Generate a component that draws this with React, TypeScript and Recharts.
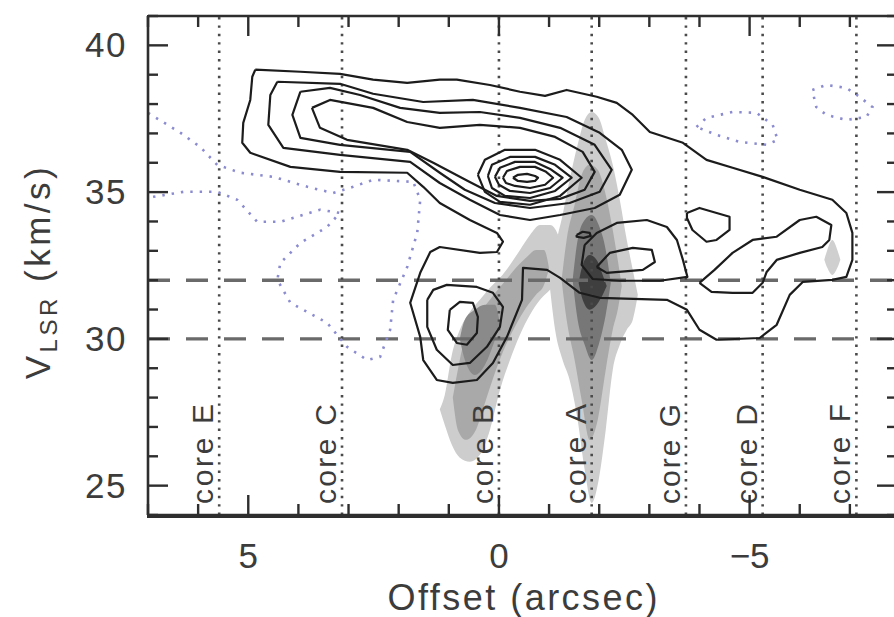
import React from "react";
import { ComposedChart, XAxis, YAxis, Line, Area, ReferenceLine } from "recharts";

// axes
const offsetTicks = [-7, -6, -5, -4, -3, -2, -1, 0, 1, 2, 3, 4, 5, 6, 7];
const offsetLabels = [5, 0, -5];
const velocityTicks = [24, 25, 26, 27, 28, 29, 30, 31, 32, 33, 34, 35, 36, 37, 38, 39, 40, 41];
const velocityLabels = [25, 30, 35, 40];
const offsetDomain = [-7.94, 7];
const velocityDomain = [24, 41];

// cores (dotted verticals) and velocity marks (dashed horizontals)
const coreNames = ["core E", "core C", "core B", "core A", "core G", "core D", "core F"];
const coreOffsets = [5.58, 3.13, 0.0, -1.85, -3.73, -5.26, -7.13];
const velocityMarks = [32, 30];

// solid contours: [offset, velocity]
const contourOuter = [
  [4.86, 39.17], [3.96, 39.1], [3.17, 39.03], [2.51, 38.83], [1.83, 38.72], [1.18, 38.83], [0.84, 38.83],
  [0.18, 38.65], [-0.42, 38.42], [-0.92, 38.28], [-1.35, 38.48], [-1.95, 38.25], [-2.35, 38.04], [-2.67, 37.63],
  [-3.01, 37.05], [-3.67, 36.68], [-4.14, 36.1], [-4.66, 35.83], [-5.26, 35.52], [-6.0, 35.08], [-6.65, 34.74],
  [-6.93, 34.29], [-7.05, 33.61], [-7.05, 32.69], [-6.93, 32.11], [-6.65, 32.01], [-6.06, 31.94], [-5.8, 31.5],
  [-5.54, 30.48], [-5.2, 30.03], [-4.34, 29.97], [-4.0, 30.31], [-3.75, 30.99], [-3.35, 31.33], [-2.01, 31.4],
  [-1.61, 31.57], [-1.22, 32.08], [-0.96, 32.35], [-0.48, 32.42], [-0.46, 31.33], [-0.16, 30.07], [0.12, 29.18],
  [0.44, 28.6], [0.92, 28.5], [1.24, 28.6], [1.51, 29.28], [1.57, 30.07], [1.77, 31.23], [1.57, 32.25],
  [1.37, 32.96], [1.18, 33.13], [0.38, 32.93], [0.04, 32.96], [-0.08, 33.31], [0.04, 33.61], [0.58, 34.05],
  [1.18, 34.63], [1.51, 35.18], [1.83, 35.66], [3.17, 35.69], [4.16, 35.86], [4.96, 36.34], [5.12, 36.68],
  [5.1, 37.36], [4.96, 38.14], [4.92, 38.93],
];
const contourRidge2 = [
  [4.42, 38.76], [3.17, 38.69], [2.51, 38.35], [1.51, 38.07], [0.52, 38.14], [-0.42, 37.87], [-1.35, 37.56],
  [-2.01, 37.02], [-2.45, 36.44], [-2.65, 35.76], [-2.41, 34.91], [-1.91, 34.46], [-1.22, 34.22], [-0.62, 34.05],
  [-0.02, 34.22], [0.58, 34.74], [1.18, 35.31], [1.77, 36.03], [3.17, 36.27], [4.3, 36.51], [4.6, 37.29], [4.56, 38.31],
];
const contourRidge3 = [
  [3.96, 38.42], [3.37, 38.55], [2.77, 38.31], [1.97, 37.87], [1.18, 37.7], [0.38, 37.73], [-0.42, 37.53],
  [-1.22, 37.19], [-1.91, 36.61], [-2.25, 35.76], [-2.01, 35.01], [-1.41, 34.63], [-0.62, 34.46], [0.08, 34.63],
  [0.68, 35.08], [1.18, 35.66], [1.77, 36.37], [3.17, 36.61], [3.96, 36.85], [4.12, 37.63],
];
const contourRidge4 = [
  [3.73, 37.87], [3.37, 38.14], [2.51, 37.87], [1.83, 37.39], [1.18, 37.19], [0.38, 37.29], [-0.42, 37.19],
  [-1.12, 36.88], [-1.67, 36.37], [-1.91, 35.69], [-1.71, 35.08], [-1.22, 34.77], [-0.62, 34.7], [0.04, 34.87],
  [0.62, 35.38], [1.31, 36.0], [1.83, 36.44], [3.03, 36.78], [3.57, 37.19],
];
const contourPeak5 = [
  [0.42, 35.59], [0.28, 36.1], [-0.12, 36.44], [-0.72, 36.44], [-1.22, 36.1], [-1.65, 35.49], [-1.22, 34.87],
  [-0.62, 34.57], [-0.02, 34.67], [0.28, 35.01],
];
const contourPeak6 = [
  [0.22, 35.55], [0.14, 35.93], [-0.22, 36.2], [-0.72, 36.2], [-1.12, 35.93], [-1.45, 35.49], [-1.12, 35.04],
  [-0.62, 34.8], [-0.12, 34.87], [0.14, 35.14],
];
const contourPeak7 = [
  [0.08, 35.52], [-0.02, 35.83], [-0.32, 36.03], [-0.72, 36.03], [-1.02, 35.79], [-1.27, 35.49], [-1.02, 35.14],
  [-0.62, 34.97], [-0.22, 35.04], [0.0, 35.25],
];
const contourPeak8 = [
  [-0.08, 35.49], [-0.16, 35.72], [-0.42, 35.86], [-0.72, 35.86], [-0.94, 35.69], [-1.08, 35.49], [-0.92, 35.25],
  [-0.62, 35.14], [-0.32, 35.21], [-0.14, 35.31],
];
const contourPeak9 = [
  [-0.28, 35.49], [-0.38, 35.59], [-0.56, 35.62], [-0.72, 35.55], [-0.78, 35.49], [-0.72, 35.38], [-0.56, 35.35],
  [-0.38, 35.38],
];
const contourB2 = [
  [1.43, 31.33], [1.31, 31.67], [1.04, 31.84], [0.44, 31.77], [0.12, 31.57], [-0.08, 31.09], [-0.02, 30.41],
  [0.24, 29.73], [0.58, 29.18], [0.92, 29.11], [1.24, 29.63], [1.43, 30.41],
];
const contourB3 = [
  [0.98, 30.99], [0.78, 31.26], [0.52, 31.23], [0.42, 30.75], [0.44, 30.2], [0.64, 29.8], [0.84, 29.86], [1.02, 30.31],
];
const contourA2 = [
  [-1.71, 33.2], [-1.95, 33.61], [-2.35, 33.95], [-2.95, 34.05], [-3.35, 33.81], [-3.55, 33.37], [-3.67, 32.69],
  [-3.76, 32.11], [-3.21, 31.98], [-2.41, 31.98], [-1.87, 32.04], [-1.65, 32.52],
];
const contourA3 = [
  [-1.95, 32.45], [-2.21, 32.93], [-2.67, 33.1], [-3.05, 33.03], [-3.11, 32.62], [-2.87, 32.35], [-2.15, 32.25],
];
const contourAtiny = [[-1.55, 33.54], [-1.67, 33.65], [-1.81, 33.61], [-1.83, 33.51], [-1.69, 33.44], [-1.55, 33.48]];
const contourG = [
  [-3.75, 34.29], [-4.0, 34.46], [-4.6, 34.16], [-4.6, 33.71], [-4.34, 33.37], [-4.14, 33.31], [-3.86, 33.71], [-3.75, 34.12],
];
const contourD = [
  [-4.0, 31.91], [-4.3, 32.35], [-4.66, 32.93], [-5.06, 33.37], [-5.54, 33.48], [-6.0, 34.05], [-6.33, 34.16],
  [-6.63, 33.88], [-6.59, 33.37], [-6.45, 33.13], [-6.0, 32.93], [-5.54, 32.69], [-5.34, 32.28], [-5.26, 31.91],
  [-5.06, 31.57], [-4.66, 31.57], [-4.24, 31.6],
];

// negative (dotted) contours
const negativeLeft = [
  [7.0, 37.7], [6.35, 37.02], [5.96, 36.54], [5.62, 35.93], [5.16, 35.66], [4.5, 35.52], [3.82, 35.18], [3.31, 34.97],
  [2.91, 35.18], [2.51, 35.42], [1.71, 35.35], [1.57, 34.74], [1.63, 33.61], [1.83, 32.45], [2.11, 31.33],
  [2.17, 30.31], [2.37, 29.39], [2.63, 29.28], [3.03, 29.73], [3.43, 30.55], [4.16, 31.23], [4.42, 32.01],
  [4.36, 32.59], [3.96, 33.27], [3.43, 33.81], [3.17, 34.29], [3.57, 34.4], [4.36, 33.99], [4.82, 33.99],
  [5.22, 34.74], [5.62, 35.01], [6.29, 35.01], [6.89, 34.84], [7.0, 34.8],
];
const negativeMid = [
  [-3.94, 37.22], [-4.14, 37.53], [-4.66, 37.73], [-5.14, 37.7], [-5.46, 37.29], [-5.56, 36.78], [-5.34, 36.61],
  [-4.8, 36.71], [-4.34, 36.95],
];
const negativeRight = [
  [-6.25, 38.48], [-6.53, 38.65], [-6.93, 38.55], [-7.19, 38.25], [-7.45, 37.9], [-7.33, 37.56], [-6.93, 37.46],
  [-6.53, 37.63], [-6.33, 37.9],
];

// grey-scale emission: [offset, low velocity, high velocity]
const greyBLight = [
  [1.18, 27.6, 27.6], [1.08, 27.07, 28.09], [0.94, 26.39, 29.45], [0.78, 25.95, 30.31], [0.58, 25.81, 30.92],
  [0.38, 26.05, 31.33], [0.18, 26.9, 31.74], [-0.02, 28.26, 32.08], [-0.22, 29.28, 32.52], [-0.42, 30.14, 33.03],
  [-0.62, 30.82, 33.54], [-0.82, 31.33, 33.88], [-1.02, 31.67, 33.88], [-1.18, 32.01, 33.54], [-1.27, 32.8, 32.8],
];
const greyBMid = [
  [0.92, 28.0, 28.0], [0.82, 26.9, 28.94], [0.66, 26.56, 30.14], [0.46, 26.9, 30.71], [0.26, 27.92, 31.16],
  [0.06, 28.94, 31.6], [-0.14, 29.8, 32.01], [-0.34, 30.48, 32.42], [-0.54, 31.06, 32.76], [-0.74, 31.5, 33.03],
  [-0.9, 31.84, 33.03], [-1.0, 32.4, 32.4],
];
const greyBDark = [
  [0.78, 30.0, 30.0], [0.68, 29.28, 30.65], [0.48, 28.77, 30.99], [0.28, 29.11, 31.16], [0.08, 29.97, 31.16],
  [-0.02, 30.5, 30.5],
];
const greyALight = [
  [-1.02, 31.7, 31.7], [-1.12, 30.31, 33.03], [-1.27, 29.28, 34.22], [-1.41, 28.6, 35.42], [-1.57, 27.24, 36.61],
  [-1.71, 25.54, 37.46], [-1.85, 24.41, 37.73], [-1.99, 25.2, 37.53], [-2.13, 26.9, 36.78], [-2.27, 28.94, 35.93],
  [-2.41, 29.8, 34.74], [-2.55, 30.31, 33.37], [-2.67, 30.65, 32.35], [-2.77, 31.5, 31.5],
];
const greyAMid = [
  [-1.25, 32.0, 32.0], [-1.35, 30.65, 33.37], [-1.51, 29.28, 34.57], [-1.65, 27.92, 35.59], [-1.81, 26.56, 35.93],
  [-1.97, 27.24, 35.76], [-2.13, 28.94, 34.91], [-2.27, 30.31, 33.71], [-2.37, 30.99, 32.69], [-2.45, 31.8, 31.8],
];
const greyADark = [
  [-1.47, 32.0, 32.0], [-1.57, 30.65, 33.37], [-1.71, 29.8, 34.05], [-1.85, 29.28, 34.22], [-1.99, 29.8, 33.88],
  [-2.13, 30.82, 33.03], [-2.23, 31.9, 31.9],
];
const greyACore = [
  [-1.59, 31.9, 31.9], [-1.67, 31.33, 32.52], [-1.81, 30.99, 32.86], [-1.95, 31.16, 32.69], [-2.07, 31.5, 32.18],
  [-2.15, 31.8, 31.8],
];
const greyF = [[-6.49, 32.7, 32.7], [-6.55, 32.42, 33.03], [-6.65, 32.18, 33.37], [-6.75, 32.42, 33.03], [-6.81, 32.7, 32.7]];

const AX = "#2e2e2e";
const TXT = "#3c3c3c";
const FONT = "'Liberation Sans', Arial, sans-serif";
// chart frame (px inside the svg)
const CHART_W = 899;
const CHART_H = 609;
const TOP_H = 8;
const RIGHT_W = 10;
const LEFT_W = 140;
const BOTTOM_H = 102;
const PLOT_TOP = TOP_H;
const PLOT_RIGHT = CHART_W - RIGHT_W;

const closed = (pts: number[][]) => [...pts, pts[0]].map(([x, y]) => ({ x, y }));
const open = (pts: number[][]) => pts.map(([x, y]) => ({ x, y }));
const band = (rows: number[][]) => rows.map(([x, lo, hi]) => ({ x, v: [lo, hi] }));

const solidContours = [
  contourOuter, contourRidge2, contourRidge3, contourRidge4, contourPeak5, contourPeak6, contourPeak7,
  contourPeak8, contourPeak9, contourB2, contourB3, contourA2, contourA3, contourAtiny, contourG, contourD,
].map(closed);
const dottedContours = [open(negativeLeft), closed(negativeMid), closed(negativeRight)];
const greyLayers = [
  { rows: greyBLight, fill: "#cdcdcd" },
  { rows: greyALight, fill: "#cdcdcd" },
  { rows: greyF, fill: "#cfcfcf" },
  { rows: greyBMid, fill: "#a9a9a9" },
  { rows: greyAMid, fill: "#a9a9a9" },
  { rows: greyBDark, fill: "#8a8a8a" },
  { rows: greyADark, fill: "#777777" },
  { rows: greyACore, fill: "#3f3f3f" },
];

const fmt = (v: number) => (v < 0 ? "\u2212" + Math.abs(v) : String(v));

// bottom ticks also mirror onto the top frame
function BottomTick(p: any) {
  const v = p.payload.value;
  const len = v % 5 === 0 ? 20 : 11;
  return (
    <g>
      <line x1={p.x} x2={p.x} y1={p.y} y2={p.y - len} stroke={AX} strokeWidth={2.4} />
      <line x1={p.x} x2={p.x} y1={PLOT_TOP} y2={PLOT_TOP + len} stroke={AX} strokeWidth={2.4} />
      {offsetLabels.includes(v) && (
        <text x={p.x} y={p.y + 53} textAnchor="middle" fontSize={35} fill={TXT} fontFamily={FONT}>
          {fmt(v)}
        </text>
      )}
    </g>
  );
}

// left ticks also mirror onto the right frame
function LeftTick(p: any) {
  const v = p.payload.value;
  const len = v % 5 === 0 ? 20 : 10;
  return (
    <g>
      <line x1={p.x} x2={p.x + len} y1={p.y} y2={p.y} stroke={AX} strokeWidth={2.4} />
      <line x1={PLOT_RIGHT} x2={PLOT_RIGHT - len} y1={p.y} y2={p.y} stroke={AX} strokeWidth={2.4} />
      {velocityLabels.includes(v) && (
        <text x={p.x - 21} y={p.y + 12} textAnchor="end" fontSize={35} fill={TXT} fontFamily={FONT} letterSpacing={1.5}>
          {v}
        </text>
      )}
    </g>
  );
}

function coreLabel(name: string) {
  return (p: any) => {
    const vb = p.viewBox;
    const tx = vb.x - 6;
    const ty = vb.y + vb.height - 11;
    return (
      <text
        x={tx}
        y={ty}
        transform={`rotate(-90, ${tx}, ${ty})`}
        fontSize={30}
        fill={TXT}
        fontFamily={FONT}
        textLength={100}
        lengthAdjust="spacing"
      >
        {name}
      </text>
    );
  };
}

function yTitle(p: any) {
  const vb = p.viewBox;
  const tx = vb.x + 42;
  const ty = vb.y + vb.height / 2 + 6;
  return (
    <text
      x={tx}
      y={ty}
      transform={`rotate(-90, ${tx}, ${ty})`}
      textAnchor="middle"
      fontSize={35}
      fill={TXT}
      fontFamily={FONT}
      letterSpacing={3.5}
    >
      <tspan>V</tspan>
      <tspan fontSize={24} dy={7}>LSR</tspan>
      <tspan dy={-7}> (km/s)</tspan>
    </text>
  );
}

function xTitle(p: any) {
  const vb = p.viewBox;
  return (
    <text
      x={vb.x + vb.width / 2}
      y={vb.y + 95}
      textAnchor="middle"
      fontSize={36}
      fill={TXT}
      fontFamily={FONT}
      textLength={270}
      lengthAdjust="spacing"
    >
      Offset (arcsec)
    </text>
  );
}

export default function App() {
  const axisLine = { stroke: AX, strokeWidth: 2.6 };
  return (
    <div style={{ position: "absolute", left: 0, top: 0, width: 894, height: 617, overflow: "hidden", background: "#fff" }}>
      <div style={{ position: "absolute", left: 8, top: 8, width: CHART_W, height: CHART_H }}>
        <ComposedChart width={CHART_W} height={CHART_H} margin={{ top: TOP_H, right: RIGHT_W, bottom: 0, left: 0 }}>
          <XAxis
            dataKey="x"
            type="number"
            domain={offsetDomain}
            reversed
            allowDataOverflow
            ticks={offsetTicks}
            interval={0}
            height={BOTTOM_H}
            tickSize={0}
            tickMargin={0}
            tickLine={false}
            axisLine={axisLine}
            tick={BottomTick}
            label={{ content: xTitle }}
          />
          <YAxis
            type="number"
            domain={velocityDomain}
            allowDataOverflow
            ticks={velocityTicks}
            interval={0}
            width={LEFT_W}
            tickSize={0}
            tickMargin={0}
            tickLine={false}
            axisLine={axisLine}
            tick={LeftTick}
            label={{ content: yTitle }}
          />

          {greyLayers.map((g, i) => (
            <Area
              key={"g" + i}
              data={band(g.rows)}
              dataKey="v"
              type="monotone"
              stroke="none"
              fill={g.fill}
              fillOpacity={1}
              isAnimationActive={false}
              activeDot={false}
              dot={false}
            />
          ))}

          {/* top and right edges of the frame */}
          <ReferenceLine y={velocityDomain[1]} stroke={AX} strokeWidth={2.6} />
          <ReferenceLine x={offsetDomain[0]} stroke={AX} strokeWidth={2.6} />

          {velocityMarks.map((v) => (
            <ReferenceLine key={"v" + v} y={v} stroke="#6a6a6a" strokeWidth={3.4} strokeDasharray="22 16" />
          ))}

          {coreOffsets.map((x, i) => (
            <ReferenceLine
              key={"c" + i}
              x={x}
              stroke="#4a4a4a"
              strokeWidth={2.6}
              strokeDasharray="2.4 6"
              label={coreLabel(coreNames[i])}
            />
          ))}

          {dottedContours.map((d, i) => (
            <Line
              key={"n" + i}
              data={d}
              dataKey="y"
              type="linear"
              stroke="#8b8bd0"
              strokeWidth={2.6}
              strokeDasharray="2.4 7"
              dot={false}
              activeDot={false}
              isAnimationActive={false}
            />
          ))}

          {solidContours.map((d, i) => (
            <Line
              key={"s" + i}
              data={d}
              dataKey="y"
              type="linear"
              stroke="#1c1c1c"
              strokeWidth={2.2}
              strokeLinejoin="round"
              dot={false}
              activeDot={false}
              isAnimationActive={false}
            />
          ))}
        </ComposedChart>
        {/* plot frame */}
        <div
          style={{
            position: "absolute",
            left: LEFT_W - 1.3,
            top: PLOT_TOP - 1.3,
            width: PLOT_RIGHT - LEFT_W,
            height: CHART_H - BOTTOM_H - PLOT_TOP,
            border: `2.6px solid ${AX}`,
            pointerEvents: "none",
          }}
        />
      </div>
    </div>
  );
}
